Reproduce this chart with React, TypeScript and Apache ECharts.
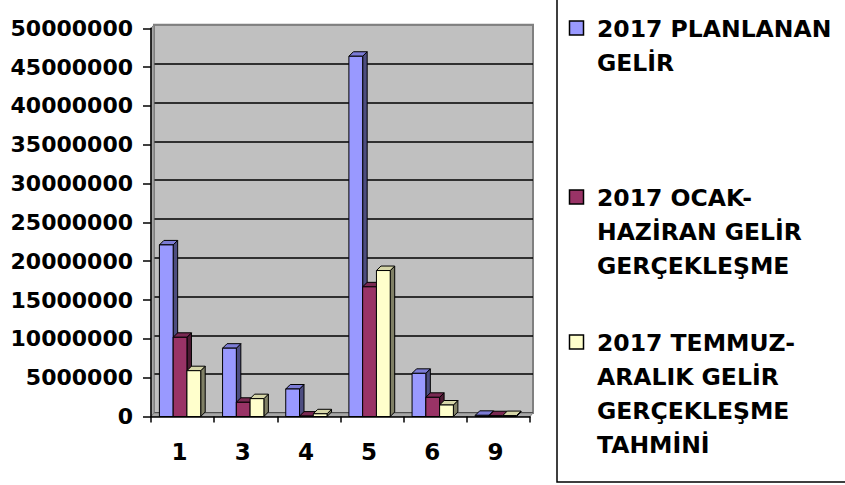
import React, { useEffect, useRef } from "react";
import * as echarts from "echarts";

const categories = ["1", "3", "4", "5", "6", "9"];
const planlananGelir = [22100000, 8800000, 3540000, 46400000, 5560000, 150000];
const ocakHaziranGelir = [10200000, 1830000, 50000, 16700000, 2470000, 100000];
const temmuzAralikTahmini = [5900000, 2300000, 350000, 18800000, 1480000, 120000];
const seriesNames = [
  "2017 PLANLANAN\nGELİR",
  "2017 OCAK-\nHAZİRAN GELİR\nGERÇEKLEŞME",
  "2017 TEMMUZ-\nARALIK GELİR\nGERÇEKLEŞME\nTAHMİNİ",
];
const yMin = 0;
const yMax = 50000000;
const yInterval = 5000000;

const FONT = "DejaVu Sans";
const palettes = [
  { front: "#9999FF", top: "#7C7CD6", side: "#4D4D80" },
  { front: "#993366", top: "#7A2952", side: "#4D1A33" },
  { front: "#FFFFCC", top: "#D6D6A8", side: "#808066" },
];
const legendTops = [12, 181, 326];

function makeBarRender(seriesIdx: number) {
  const pal = palettes[seriesIdx];
  return (params: any, api: any) => {
    const ci = api.value(0);
    const v = api.value(1);
    const topPt = api.coord([ci, v]);
    const basePt = api.coord([ci, 0]);
    const band = api.size([1, 0])[0];
    const w = band * 0.218;
    const cx = topPt[0];
    const yTop = topPt[1];
    const yBase = basePt[1];
    const x0 = cx - band * 0.04 - 1.5 * w + seriesIdx * w;
    const x1 = x0 + w;
    const dx = 4.5;
    const dy = 4.5;
    return {
      type: "group",
      children: [
        {
          type: "polygon",
          shape: { points: [[x1, yTop], [x1 + dx, yTop - dy], [x1 + dx, yBase - dy], [x1, yBase]] },
          style: { fill: pal.side, stroke: "#000", lineWidth: 1 },
        },
        {
          type: "polygon",
          shape: { points: [[x0, yTop], [x0 + dx, yTop - dy], [x1 + dx, yTop - dy], [x1, yTop]] },
          style: { fill: pal.top, stroke: "#000", lineWidth: 1 },
        },
        {
          type: "rect",
          shape: { x: x0, y: yTop, width: w, height: yBase - yTop },
          style: { fill: pal.front, stroke: "#000", lineWidth: 1 },
        },
      ],
    };
  };
}

function renderWalls(params: any) {
  const cs = params.coordSys;
  const x = cs.x;
  const y = cs.y;
  const r = cs.x + cs.width;
  const b = cs.y + cs.height;
  const dx = 3;
  const dy = 3.5;
  return {
    type: "group",
    children: [
      {
        type: "polygon",
        shape: { points: [[x, y], [x + dx, y - dy], [x + dx, b - dy], [x, b]] },
        style: { fill: "#A8A8A8", stroke: "#808080", lineWidth: 1 },
      },
      {
        type: "polygon",
        shape: { points: [[x, b], [x + dx, b - dy], [r + dx, b - dy], [r, b]] },
        style: { fill: "#A8A8A8", stroke: "#808080", lineWidth: 1 },
      },
    ],
  };
}

export default function App() {
  const ref = useRef<HTMLDivElement>(null);
  useEffect(() => {
    if (!ref.current) return;
    const chart = echarts.init(ref.current, null, { renderer: "svg" });
    const seriesData = [planlananGelir, ocakHaziranGelir, temmuzAralikTahmini];
    const splitColors: string[] = [];
    for (let v = yMin; v <= yMax; v += yInterval) splitColors.push(v === yMax ? "#808080" : "#000000");

    const legendGraphics: any[] = [];
    seriesNames.forEach((name, i) => {
      legendGraphics.push({
        type: "rect",
        shape: { x: 569.5, y: legendTops[i] + 9, width: 14, height: 14 },
        style: { fill: palettes[i].front, stroke: "#000", lineWidth: 1.5 },
      });
      legendGraphics.push({
        type: "text",
        x: 597,
        y: legendTops[i],
        style: {
          text: name,
          font: `bold 23.5px "${FONT}"`,
          lineHeight: 34,
          fill: "#000",
          verticalAlign: "top",
        },
      });
    });

    chart.setOption({
      animation: false,
      backgroundColor: "#ffffff",
      graphic: [
        {
          type: "rect",
          shape: { x: 557, y: -10, width: 300, height: 492 },
          style: { fill: "#ffffff", stroke: "#000", lineWidth: 1.5 },
          z: -1,
        },
        ...legendGraphics,
      ],
      grid: [
        { left: 151, right: 315, top: 28.3, bottom: 68.5, show: false },
        {
          left: 154,
          right: 312,
          top: 24.8,
          bottom: 72,
          show: true,
          backgroundColor: "#C0C0C0",
          borderColor: "#808080",
          borderWidth: 2,
          z: 0,
        },
      ],
      xAxis: [
        {
          type: "category",
          gridIndex: 0,
          data: categories,
          axisLine: { show: true, lineStyle: { color: "#000", width: 1.5 } },
          axisTick: { show: true, length: 6, lineStyle: { color: "#000", width: 1.5 } },
          axisLabel: {
            color: "#000",
            fontFamily: FONT,
            fontWeight: "bold",
            fontSize: 23,
            margin: 24,
            padding: [0, 6, 0, 0],
          },
          splitLine: { show: false },
          z: 5,
        },
        {
          type: "category",
          gridIndex: 1,
          data: categories,
          show: false,
        },
      ],
      yAxis: [
        {
          type: "value",
          gridIndex: 0,
          min: yMin,
          max: yMax,
          interval: yInterval,
          axisLine: { show: true, lineStyle: { color: "#000", width: 1.5 } },
          axisTick: { show: true, length: 8, lineStyle: { color: "#000", width: 1.5 } },
          axisLabel: {
            color: "#000",
            fontFamily: FONT,
            fontWeight: "bold",
            fontSize: 22,
            margin: 18,
            formatter: (v: number) => String(v),
          },
          splitLine: { show: false },
          z: 5,
        },
        {
          type: "value",
          gridIndex: 1,
          min: yMin,
          max: yMax,
          interval: yInterval,
          axisLine: { show: false },
          axisTick: { show: false },
          axisLabel: { show: false },
          splitLine: { show: true, lineStyle: { color: splitColors, width: 1.5 } },
        },
      ],
      series: [
        {
          type: "custom",
          name: "walls",
          xAxisIndex: 0,
          yAxisIndex: 0,
          renderItem: renderWalls,
          data: [[0, 0]],
          z: 1,
          silent: true,
        },
        ...seriesData.map((arr, si) => ({
          type: "custom",
          name: seriesNames[si],
          xAxisIndex: 0,
          yAxisIndex: 0,
          renderItem: makeBarRender(si),
          data: arr.map((v, i) => [i, v]),
          encode: { x: 0, y: 1 },
          z: 3 + si,
        })),
      ],
    });
    return () => chart.dispose();
  }, []);
  return (
    <div
      ref={ref}
      style={{ position: "fixed", left: 0, top: 0, width: 845, height: 485 }}
    />
  );
}
